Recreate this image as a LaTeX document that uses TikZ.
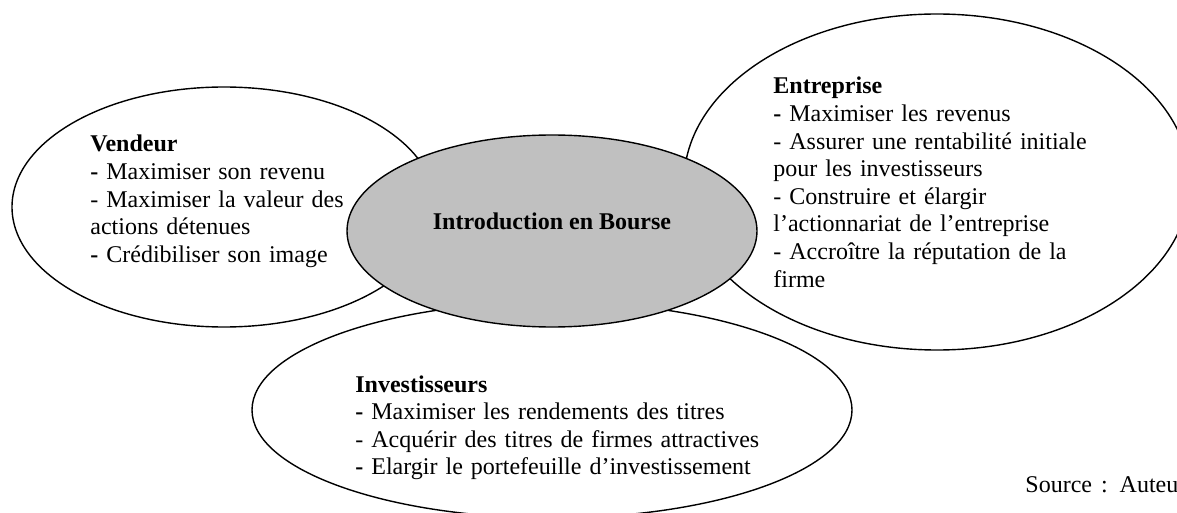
\documentclass[tikz,border=0pt]{standalone}
\usepackage{fontspec}
\setmainfont{Liberation Serif}
\usetikzlibrary{shapes.geometric}
\definecolor{centergray}{HTML}{C0C0C0}
\tikzset{
  bubble/.style={draw=black, line width=0.7pt, ellipse, inner sep=0pt, outer sep=0pt, fill=white},
  core/.style={bubble, fill=centergray},
  txt/.style={anchor=base west, inner sep=0pt, align=left, font=\fontsize{12}{13.8}\selectfont},
}
\begin{document}
\begin{tikzpicture}[x=0.5pt, y=-0.5pt]
\useasboundingbox (0,0) rectangle (1177,513);
% ellipses (width in pt = horizontal radius in px)
\node[bubble, minimum width=212pt, minimum height=120pt] (vend) at (224,207) {};
\node[bubble, minimum width=253pt, minimum height=168pt] (entr) at (937,182) {};
\node[bubble, minimum width=300pt, minimum height=108pt] (inv) at (552,410) {};
\node[core, minimum width=205pt, minimum height=96pt] (ipo) at (552,231) {};
% texts
\node[txt, anchor=base, font=\fontsize{12}{13.8}\selectfont\bfseries] (ipot) at (552,230) {Introduction en Bourse};
\node[txt, text width=150pt] (vendt) at (90,152) {\textbf{Vendeur}\\
\textbf{-} Maximiser son revenu\\
- Maximiser la valeur des\\
actions détenues\\
\textbf{-} Crédibiliser son image};
\node[txt, text width=165pt] (entrt) at (773,94) {\textbf{Entreprise}\\
\textbf{-} Maximiser les revenus\\
- Assurer une rentabilité initiale\\
pour les investisseurs\\
- Construire et élargir\\
l’actionnariat de l’entreprise\\
- Accroître la réputation de la\\
firme};
\node[txt, text width=215pt] (invt) at (355,392) {\textbf{Investisseurs}\\
\textbf{-} Maximiser les rendements des titres\\
- Acquérir des titres de firmes attractives\\
\textbf{-} Elargir le portefeuille d’investissement};
\node[txt] (src) at (1025,492) {Source\hspace{4.5pt}:\hspace{6pt}Auteur};
\end{tikzpicture}
\end{document}
